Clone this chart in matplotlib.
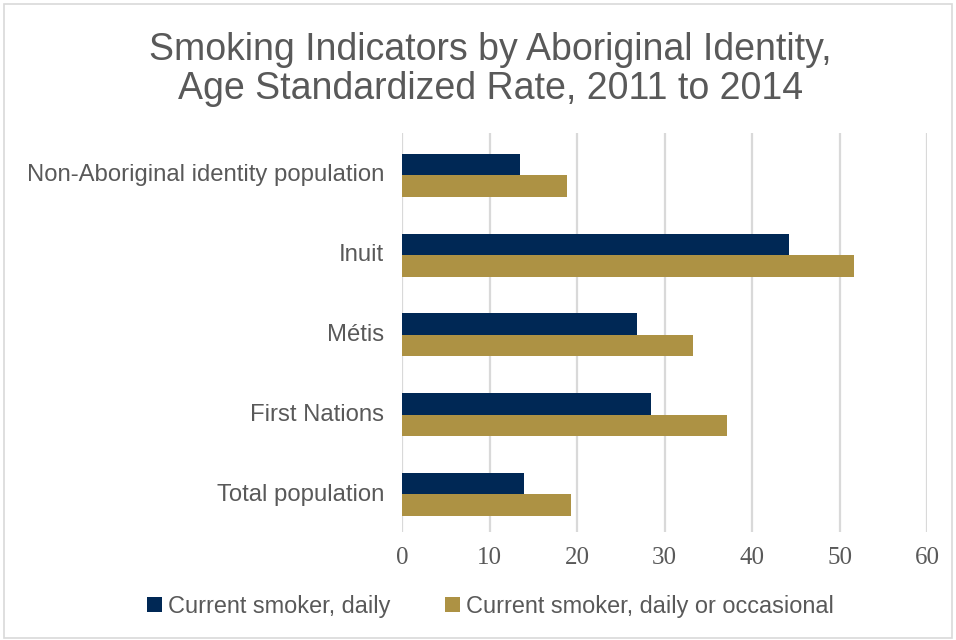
import matplotlib
matplotlib.use("Agg")
import matplotlib.pyplot as plt
from matplotlib.patches import Rectangle
import numpy as np

categories = ["Non-Aboriginal identity population", "Inuit", "Métis", "First Nations", "Total population"]
daily = [13.5, 44.2, 26.9, 28.4, 13.9]
daily_or_occasional = [18.8, 51.7, 33.3, 37.1, 19.3]
series_names = ["Current smoker, daily", "Current smoker, daily or occasional"]
xticks = [0, 10, 20, 30, 40, 50, 60]

navy = "#002855"
gold = "#AD9244"
txt = "#595959"

fig = plt.figure(figsize=(9.56, 6.4), dpi=100)
fig.patches.append(Rectangle((0.004, 0.003), 0.992, 0.99, transform=fig.transFigure,
                             fill=False, edgecolor="#D9D9D9", linewidth=1.2))

ax = fig.add_axes([0.4205, 0.1688, 0.5492, 0.6234])
y = np.arange(len(categories))
h = 0.27
ax.barh(y - h / 2 + 0.03, daily, height=h, color=navy, label=series_names[0], zorder=3)
ax.barh(y + h / 2 + 0.03, daily_or_occasional, height=h, color=gold, label=series_names[1], zorder=3)

ax.set_ylim(len(categories) - 0.5, -0.5)
ax.set_xlim(0, 60)
ax.set_xticks(xticks)
ax.set_xticklabels([str(t) for t in xticks], family="Liberation Serif", fontsize=18, color=txt)
ax.set_yticks(y)
ax.set_yticklabels(categories, family="Liberation Sans", fontsize=17.2, color=txt)
ax.tick_params(axis="both", length=0)
ax.tick_params(axis="x", pad=11)
ax.tick_params(axis="y", pad=13)
ax.grid(axis="x", color="#D9D9D9", linewidth=1.6, zorder=0)
for s in ax.spines.values():
    s.set_visible(False)

fig.text(0.513, 0.891, "Smoking Indicators by Aboriginal Identity,\nAge Standardized Rate, 2011 to 2014",
         ha="center", va="center", fontsize=27, color=txt, family="Liberation Sans", linespacing=1.12)

leg = fig.legend(loc="center", bbox_to_anchor=(0.513, 0.053), ncol=2, frameon=False,
                 handlelength=0.65, handleheight=0.65, handletextpad=0.25, columnspacing=2.3,
                 prop={"family": "Liberation Sans", "size": 16.9})
for t in leg.get_texts():
    t.set_color(txt)

fig.savefig("out.png", dpi=100)
